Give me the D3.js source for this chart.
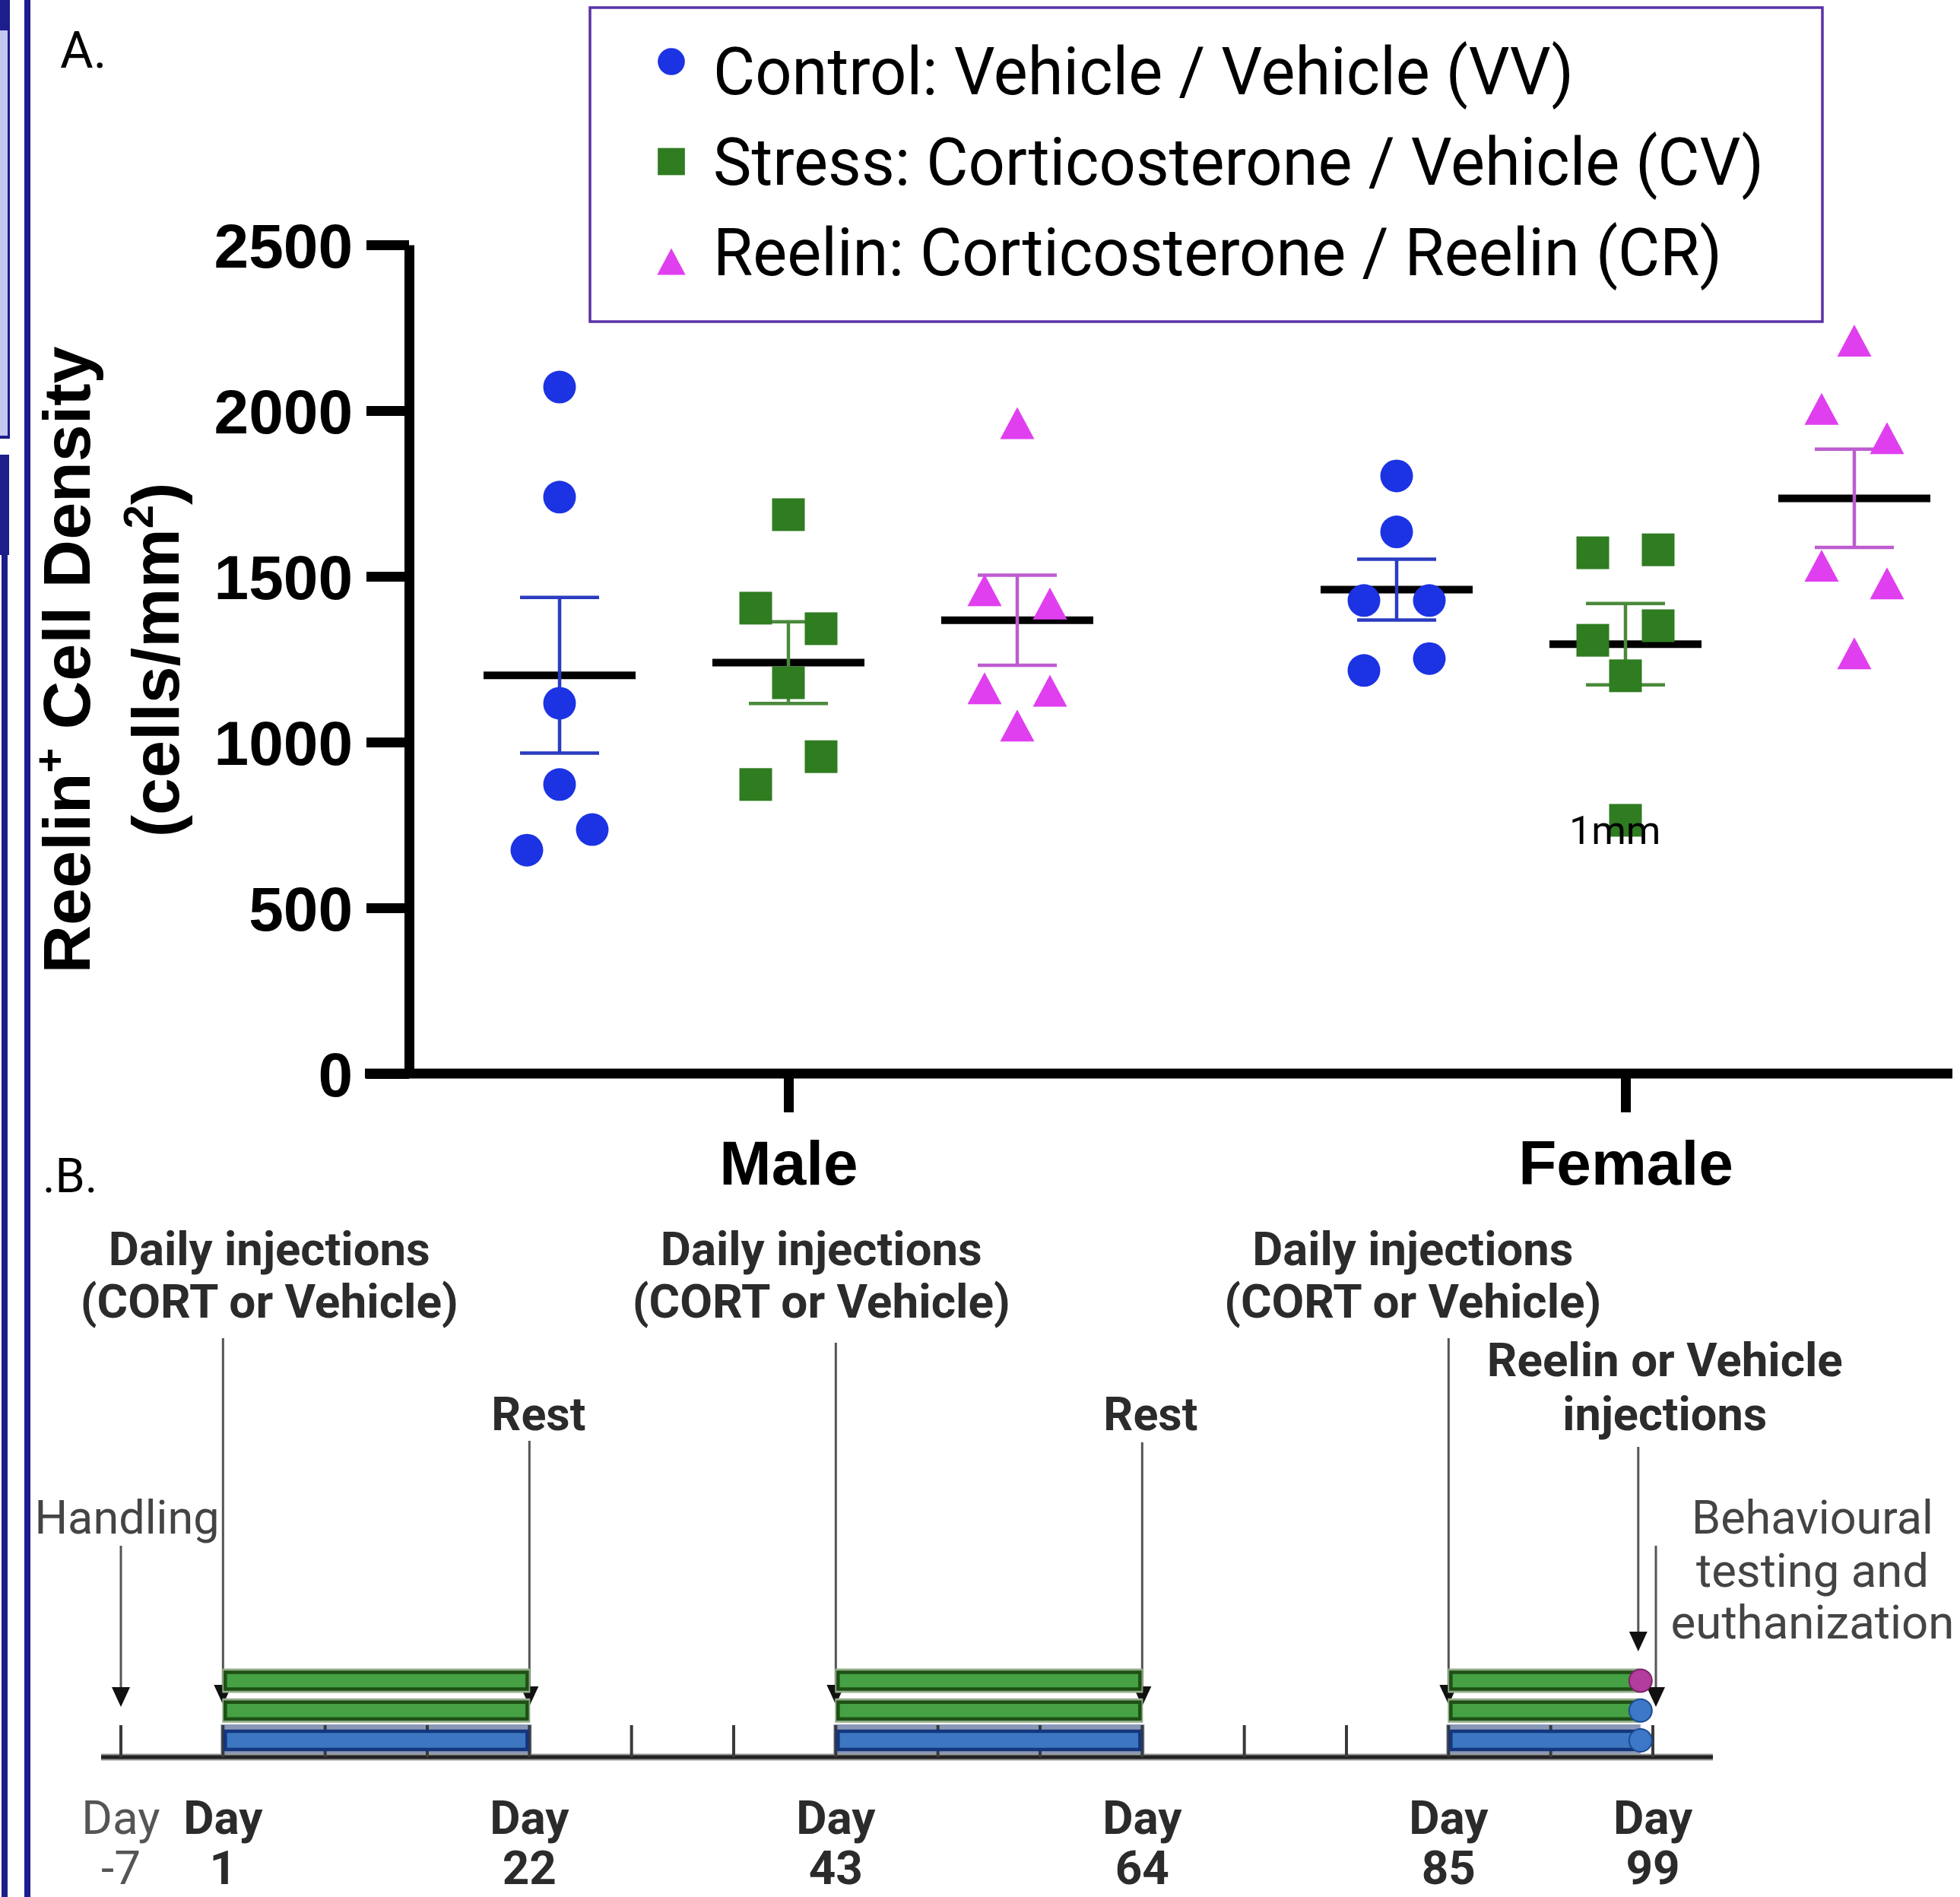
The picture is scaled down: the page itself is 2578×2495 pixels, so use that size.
<!DOCTYPE html>
<html><head><meta charset="utf-8">
<script src="https://cdn.jsdelivr.net/npm/d3@7"></script>
<style>html,body{margin:0;padding:0;background:#fff;} svg{display:block;}</style>
</head><body>
<svg id="chart" width="2578" height="2495"></svg>
<script>
// ================= DATA =================
const sexes = ["Male", "Female"];
const groups = ["VV", "CV", "CR"];
const groupNames = ["Control: Vehicle / Vehicle (VV)", "Stress: Corticosterone / Vehicle (CV)", "Reelin: Corticosterone / Reelin (CR)"];
const yTicks = [0, 500, 1000, 1500, 2000, 2500];

// Reelin+ cell density (cells/mm2), one value per animal
const maleVV   = [2071, 1739, 1117, 872, 736, 674];
const maleCV   = [1686, 1404, 1342, 1179, 956, 872];
const maleCR   = [1962, 1458, 1418, 1162, 1155, 1050];
const femaleVV = [1803, 1634, 1427, 1427, 1252, 1216];
const femaleCV = [1580, 1571, 1351, 1307, 1200, 764];
const femaleCR = [2211, 2005, 1917, 1532, 1479, 1268];
// scatter column of each animal (-1 left, 0 centre, 1 right)
const colMaleVV   = [0, 0, 0, 0, 1, -1];
const colMaleCV   = [0, -1, 1, 0, 1, -1];
const colMaleCR   = [0, -1, 1, -1, 1, 0];
const colFemaleVV = [0, 0, -1, 1, 1, -1];
const colFemaleCV = [1, -1, 1, -1, 0, 0];
const colFemaleCR = [0, -1, 1, -1, 1, 0];

// Timeline (panel B)
const timelineTickDays = [-7, 1, 8, 15, 22, 29, 36, 43, 50, 57, 64, 71, 78, 85, 92, 99];
const labelledDays = [-7, 1, 22, 43, 64, 85, 99];
const periodStart = [1, 43, 85];
const periodEnd = [22, 64, 98];
const rowTreatment = ["CORT", "CORT", "Vehicle"];
const rowFinalInjection = ["Reelin", "Vehicle", "Vehicle"];
const finalInjectionDay = 98;
const eventDays = [-7, 1, 22, 43, 64, 85, 98, 99];
const eventLabels = [
  ["Handling"],
  ["Daily injections", "(CORT or Vehicle)"],
  ["Rest"],
  ["Daily injections", "(CORT or Vehicle)"],
  ["Rest"],
  ["Daily injections", "(CORT or Vehicle)"],
  ["Reelin or Vehicle", "injections"],
  ["Behavioural", "testing and", "euthanization"]
];

// ================= STYLE / LAYOUT =================
const ARIAL = "'Liberation Sans', Arial, Helvetica, sans-serif";
const ROBOTO = "Roboto, 'Noto Sans', sans-serif";
const markerColor = {VV: "#1c33e3", CV: "#2f7c21", CR: "#e03ff0"};
const errColor = {VV: "#2b3cc0", CV: "#4a8a3c", CR: "#bd5ccf"};
const treatFill = {CORT: "#45a143", Vehicle: "#3d77c1", Reelin: "#b23d9e"};
const treatStroke = {CORT: "#1e5016", Vehicle: "#14367d", Reelin: "#7a2468"};
const treatHalo = {CORT: "#93ad89", Vehicle: "#8a98b8"};
const circleFill = {Reelin: "#b23d9e", Vehicle: "#3d78c8"};
const circleStroke = {Reelin: "#7a2468", Vehicle: "#1c4b92"};

const eventLayout = [
  {dx: 8,   lineTop: 2033, tipY: 2245, base: [2017], widths: [243], bold: false},
  {dx: 61,  lineTop: 1760, tipY: 2242, base: [1664, 1733], widths: [423, 497], bold: true},
  {dx: 12,  lineTop: 1895, tipY: 2244, base: [1881], widths: [124], bold: true},
  {dx: -19, lineTop: 1766, tipY: 2242, base: [1664, 1733], widths: [423, 497], bold: true},
  {dx: 11,  lineTop: 1897, tipY: 2244, base: [1881], widths: [124], bold: true},
  {dx: -47, lineTop: 1760, tipY: 2242, base: [1664, 1733], widths: [422, 496], bold: true},
  {dx: 35,  lineTop: 1903, tipY: 2172, base: [1810, 1881], widths: [468, 269], bold: true},
  {dx: 210, lineTop: 2033, tipY: 2245, base: [2017, 2087, 2155], widths: [318, 306, 373], bold: false, lineDx: 4}
];

const svg = d3.select("#chart");
svg.append("rect").attr("width", 2578).attr("height", 2495).attr("fill", "#fff");

// ---------- left page decorations ----------
const deco = svg.append("g");
const NAVY = "#1d1d8c";
deco.append("rect").attr("x", 0).attr("y", 0).attr("width", 13).attr("height", 40).attr("fill", NAVY);
deco.append("rect").attr("x", 0).attr("y", 40).attr("width", 13).attr("height", 537).attr("fill", NAVY);
deco.append("rect").attr("x", 0).attr("y", 40).attr("width", 10).attr("height", 533).attr("fill", "#c5c8ef");
deco.append("rect").attr("x", 0).attr("y", 598).attr("width", 12).attr("height", 132).attr("fill", NAVY);
deco.append("rect").attr("x", 2).attr("y", 730).attr("width", 8).attr("height", 1765).attr("fill", NAVY);
deco.append("rect").attr("x", 32).attr("y", 0).attr("width", 8).attr("height", 2495).attr("fill", NAVY);

// ---------- panel letters ----------
svg.append("text").attr("x", 79).attr("y", 89).attr("font-family", ROBOTO).attr("font-size", 67).attr("fill", "#000").text("A.");
svg.append("text").attr("x", 56).attr("y", 1568).attr("font-family", ROBOTO).attr("font-size", 63).attr("fill", "#000").text(".B.");

// ================= PANEL A =================
const y = d3.scaleLinear().domain([0, 2500]).range([1412, 322]);
const xSex = d3.scalePoint().domain(sexes).range([1037, 2138]);
const xGroup = d3.scalePoint().domain(groups).range([-301, 301]);
const xCol = d3.scalePoint().domain([-1, 0, 1]).range([-43, 43]);

const series = [
  {sex: "Male", group: "VV", values: maleVV, cols: colMaleVV},
  {sex: "Male", group: "CV", values: maleCV, cols: colMaleCV},
  {sex: "Male", group: "CR", values: maleCR, cols: colMaleCR},
  {sex: "Female", group: "VV", values: femaleVV, cols: colFemaleVV},
  {sex: "Female", group: "CV", values: femaleCV, cols: colFemaleCV},
  {sex: "Female", group: "CR", values: femaleCR, cols: colFemaleCR}
];
series.forEach(s => {
  s.mean = d3.mean(s.values);
  s.sem = d3.deviation(s.values) / Math.sqrt(s.values.length);
  s.cx = xSex(s.sex) + xGroup(s.group);
});

// y axis
const yAxis = d3.axisLeft(y).tickValues(yTicks).tickFormat(d3.format("d"))
  .tickSize(56).tickPadding(18).tickSizeOuter(0);
const gy = svg.append("g").attr("transform", "translate(538,0)").call(yAxis);
gy.attr("font-size", null).attr("font-family", null);
gy.select(".domain").attr("stroke", "#000").attr("stroke-width", 13);
gy.selectAll(".tick line").attr("stroke", "#000").attr("stroke-width", 13);
gy.selectAll(".tick text").attr("font-family", ARIAL).attr("font-weight", "bold")
  .attr("font-size", 82).attr("fill", "#000").attr("dy", "0.36em");

// x axis
svg.append("line").attr("x1", 480).attr("x2", 2568).attr("y1", y(0)).attr("y2", y(0))
  .attr("stroke", "#000").attr("stroke-width", 13);
const xAxis = d3.axisBottom(xSex).tickSize(51).tickPadding(37).tickSizeOuter(0);
const gx = svg.append("g").attr("transform", `translate(0,${y(0)})`).call(xAxis);
gx.attr("font-size", null).attr("font-family", null);
gx.select(".domain").remove();
gx.selectAll(".tick line").attr("stroke", "#000").attr("stroke-width", 13);
gx.selectAll(".tick text").attr("font-family", ARIAL).attr("font-weight", "bold")
  .attr("font-size", 82).attr("fill", "#000");

// y axis title
const yt1 = svg.append("text").attr("transform", "translate(118,868) rotate(-90)")
  .attr("text-anchor", "middle").attr("font-family", ARIAL).attr("font-weight", "bold")
  .attr("font-size", 88).attr("fill", "#000");
yt1.append("tspan").text("Reelin");
yt1.append("tspan").attr("font-size", 56).attr("dy", -34).text("+");
yt1.append("tspan").attr("dy", 34).text(" Cell Density");
const yt2 = svg.append("text").attr("transform", "translate(235,868) rotate(-90)")
  .attr("text-anchor", "middle").attr("font-family", ARIAL).attr("font-weight", "bold")
  .attr("font-size", 88).attr("fill", "#000");
yt2.append("tspan").text("(cells/mm");
yt2.append("tspan").attr("font-size", 56).attr("dy", -34).text("2");
yt2.append("tspan").attr("dy", 34).text(")");

// marker drawing helper
function drawMarker(g, group, cx, cy, k) {
  if (group === "VV") {
    g.append("circle").attr("cx", cx).attr("cy", cy).attr("r", 21.5 * k).attr("fill", markerColor.VV);
  } else if (group === "CV") {
    const s = 43 * k;
    g.append("rect").attr("x", cx - s / 2).attr("y", cy - s / 2).attr("width", s).attr("height", s).attr("fill", markerColor.CV);
  } else {
    const w = 45 * k, h = 42 * k;
    g.append("path").attr("d", `M${cx},${cy - h / 2}L${cx + w / 2},${cy + h / 2}L${cx - w / 2},${cy + h / 2}Z`).attr("fill", markerColor.CR);
  }
}

const plot = svg.append("g");
// mean lines
plot.selectAll("line.mean").data(series).join("line").attr("class", "mean")
  .attr("x1", d => d.cx - 100).attr("x2", d => d.cx + 100)
  .attr("y1", d => y(d.mean)).attr("y2", d => y(d.mean))
  .attr("stroke", "#000").attr("stroke-width", 10);
// error bars (mean ± SEM)
series.forEach(s => {
  const g = plot.append("g").attr("stroke", errColor[s.group]).attr("stroke-width", 4.5);
  g.append("line").attr("x1", s.cx).attr("x2", s.cx).attr("y1", y(s.mean + s.sem)).attr("y2", y(s.mean - s.sem));
  g.append("line").attr("x1", s.cx - 52).attr("x2", s.cx + 52).attr("y1", y(s.mean + s.sem)).attr("y2", y(s.mean + s.sem));
  g.append("line").attr("x1", s.cx - 52).attr("x2", s.cx + 52).attr("y1", y(s.mean - s.sem)).attr("y2", y(s.mean - s.sem));
});
// individual points
series.forEach(s => {
  s.values.forEach((v, i) => drawMarker(plot, s.group, s.cx + xCol(s.cols[i]), y(v), 1));
});

// scale text
svg.append("text").attr("x", 2064).attr("y", 1110).attr("font-family", ROBOTO).attr("font-size", 52)
  .attr("fill", "#000").text("1mm");

// legend
const leg = svg.append("g");
leg.append("rect").attr("x", 776).attr("y", 10).attr("width", 1621).attr("height", 413)
  .attr("fill", "none").attr("stroke", "#5a32a8").attr("stroke-width", 3.5);
const legMarkerY = d3.scalePoint().domain(groups).range([81, 344]);
const legTextY = d3.scalePoint().domain(groups).range([124, 362]);
const legWidths = [1132, 1382, 1327];
groups.forEach((gname, i) => {
  drawMarker(leg, gname, 883, legMarkerY(gname), 0.83);
  leg.append("text").attr("x", 938).attr("y", legTextY(gname)).attr("font-family", ROBOTO)
    .attr("font-size", 87).attr("fill", "#000")
    .attr("textLength", legWidths[i]).attr("lengthAdjust", "spacingAndGlyphs").text(groupNames[i]);
});

// ================= PANEL B (timeline) =================
const weekIndex = d3.scaleLinear().domain([-7, 1, 99]).range([0, 1, 15]);
const xIdx = d3.scaleLinear().domain([0, 15]).range([159, 2174]);
const xT = d => xIdx(weekIndex(d));
const axisY = 2311;
const rowY = d3.scalePoint().domain([0, 1, 2]).range([2210.5, 2289]);

const tl = svg.append("g");

// event arrows + labels (drawn first so bars sit over arrowheads)
eventDays.forEach((day, i) => {
  const L = eventLayout[i];
  const ax = xT(day) + (L.lineDx || 0);
  tl.append("line").attr("x1", ax).attr("x2", ax).attr("y1", L.lineTop).attr("y2", L.tipY - 20)
    .attr("stroke", "#555").attr("stroke-width", 3);
  tl.append("path").attr("d", `M${ax - 12},${L.tipY - 26}L${ax + 12},${L.tipY - 26}L${ax},${L.tipY}Z`).attr("fill", "#111");
  eventLabels[i].forEach((t, j) => {
    tl.append("text").attr("x", xT(day) + L.dx).attr("y", L.base[j]).attr("text-anchor", "middle")
      .attr("font-family", ROBOTO).attr("font-weight", L.bold ? "bold" : "normal")
      .attr("font-size", 62).attr("fill", L.bold ? "#2b2b2b" : "#444")
      .attr("textLength", L.widths[j]).attr("lengthAdjust", "spacingAndGlyphs").text(t);
  });
});

// halos under bars
periodStart.forEach((st, p) => {
  const x0 = xT(st), x1 = xT(periodEnd[p]);
  rowTreatment.forEach((tr, r) => {
    if (r < 2) {
      tl.append("rect").attr("x", x0 - 1).attr("y", rowY(r) - 16).attr("width", x1 - x0 + 2).attr("height", 32)
        .attr("fill", treatHalo[tr]);
    } else {
      tl.append("rect").attr("x", x0 - 3).attr("y", rowY(r) - 21).attr("width", x1 - x0 + 6).attr("height", axisY - rowY(r) + 21)
        .attr("fill", treatHalo[tr]);
    }
  });
});

// axis line
tl.append("line").attr("x1", 133).attr("x2", 2253).attr("y1", axisY).attr("y2", axisY)
  .attr("stroke", "#9a9a9a").attr("stroke-width", 9);
tl.append("line").attr("x1", 133).attr("x2", 2253).attr("y1", axisY).attr("y2", axisY)
  .attr("stroke", "#222").attr("stroke-width", 5);
// ticks
tl.selectAll("line.tk").data(timelineTickDays).join("line").attr("class", "tk")
  .attr("x1", d => xT(d)).attr("x2", d => xT(d)).attr("y1", 2269).attr("y2", axisY)
  .attr("stroke", "#3a3a3a").attr("stroke-width", 4);

// bars
periodStart.forEach((st, p) => {
  const x0 = xT(st), x1 = xT(periodEnd[p]);
  rowTreatment.forEach((tr, r) => {
    const h = r < 2 ? 22 : 24;
    tl.append("rect").attr("x", x0 + 3).attr("y", rowY(r) - h / 2).attr("width", x1 - x0 - 6).attr("height", h)
      .attr("fill", treatFill[tr]).attr("stroke", treatStroke[tr]).attr("stroke-width", 4.5);
  });
});
// final injection markers
rowFinalInjection.forEach((tr, r) => {
  tl.append("circle").attr("cx", xT(finalInjectionDay) + 3).attr("cy", rowY(r)).attr("r", 15)
    .attr("fill", circleFill[tr]).attr("stroke", circleStroke[tr]).attr("stroke-width", 2);
});

// day labels
labelledDays.forEach(d => {
  const bold = d > 0;
  const g = tl.append("g").attr("font-family", ROBOTO).attr("font-size", 62)
    .attr("font-weight", bold ? "bold" : "normal").attr("fill", bold ? "#2b2b2b" : "#555")
    .attr("text-anchor", "middle");
  g.append("text").attr("x", xT(d)).attr("y", 2412).text("Day");
  g.append("text").attr("x", xT(d)).attr("y", 2478).text(String(d));
});
</script>
</body></html>
